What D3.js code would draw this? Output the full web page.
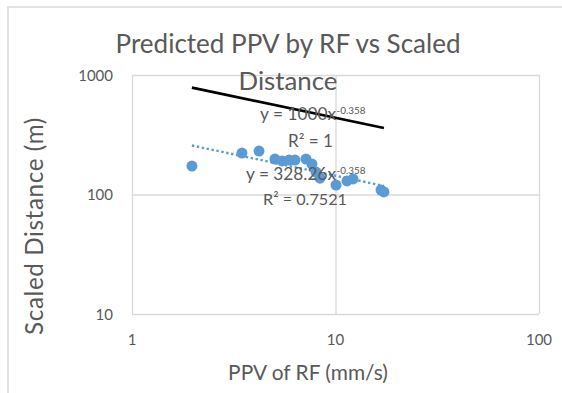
<!DOCTYPE html>
<html><head><meta charset="utf-8">
<script src="https://cdn.jsdelivr.net/npm/d3@7"></script>
<style>body{margin:0;background:#fff}svg{display:block}text{font-family:Lato,"Open Sans",sans-serif;fill:#595959}</style>
</head><body><svg id="c" width="562" height="393"></svg>
<script>
// Data
const ppv = [1.97, 3.47, 4.21, 5.04, 5.46, 5.91, 6.32, 7.16, 7.66, 8.02, 8.39, 10.06, 11.39, 12.19, 16.73, 17.3];
const scaledDist = [173, 222, 231, 198, 191, 194, 194, 198, 180, 154, 137, 120, 130, 135, 109, 105];
// Predicted series (black line, y = 1000x^-0.358) endpoints
const predX = [1.97, 17.3];
const predY = [784, 360];
// Power trendline of measured series (y = 328.26x^-0.358) endpoints
const trendX = [1.97, 17.3];
const trendY = [257, 118];
const xTicks = [1, 10, 100];
const yTicks = [10, 100, 1000];
const titleLines = ["Predicted PPV by RF vs Scaled", "Distance"];

const svg = d3.select("#c");
const L = 132, R = 539, T = 75, B = 314;
const x = d3.scaleLog().domain([1, 100]).range([L, R]);
const y = d3.scaleLog().domain([10, 1000]).range([B, T]);

function fit(sel, w) {
  const n = sel.node();
  const fs = parseFloat(sel.attr("font-size"));
  const m = n.getComputedTextLength();
  sel.attr("font-size", fs * w / m);
}

// chart border
svg.append("rect").attr("x", 8).attr("y", 7).attr("width", 620).attr("height", 420)
  .attr("fill", "none").attr("stroke", "#d9d9d9").attr("stroke-width", 1.5);

// gridlines
const gx = d3.axisBottom(x).tickValues(xTicks).tickSize(-(B - T)).tickFormat("");
svg.append("g").attr("transform", `translate(0,${B})`).call(gx)
  .call(g => g.select(".domain").remove())
  .call(g => g.selectAll("line").attr("stroke", "#d9d9d9").attr("stroke-width", 1.3));
const gy = d3.axisLeft(y).tickValues(yTicks).tickSize(-(R - L)).tickFormat("");
svg.append("g").attr("transform", `translate(${L},0)`).call(gy)
  .call(g => g.select(".domain").remove())
  .call(g => g.selectAll("line").attr("stroke", "#d9d9d9").attr("stroke-width", 1.3));

// tick labels
svg.append("g").selectAll("text").data(xTicks).join("text")
  .attr("x", d => x(d)).attr("y", 345).attr("text-anchor", "middle")
  .attr("font-size", 15).text(d => d);
svg.append("g").selectAll("text").data(yTicks).join("text")
  .attr("x", 113).attr("y", d => y(d) + 5.5).attr("text-anchor", "end")
  .attr("font-size", 15).text(d => d);

// predicted line
const line = d3.line().x(d => x(d[0])).y(d => y(d[1]));
svg.append("path").datum(d3.zip(predX, predY)).attr("d", line)
  .attr("fill", "none").attr("stroke", "#000").attr("stroke-width", 2.6);

// trendline
svg.append("path").datum(d3.zip(trendX, trendY)).attr("d", line)
  .attr("fill", "none").attr("stroke", "#5b9bd5").attr("stroke-width", 2.4)
  .attr("stroke-dasharray", "2.4,2.6");

// points
svg.append("g").selectAll("circle").data(d3.zip(ppv, scaledDist)).join("circle")
  .attr("cx", d => x(d[0])).attr("cy", d => y(d[1])).attr("r", 5.5)
  .attr("fill", "#5b9bd5");

// title
const t1 = svg.append("text").attr("x", 288).attr("y", 53).attr("text-anchor", "middle")
  .attr("font-size", 24).text(titleLines[0]);
fit(t1, 345);
const t2 = svg.append("text").attr("x", 288).attr("y", 90).attr("text-anchor", "middle")
  .attr("font-size", 24).text(titleLines[1]);
fit(t2, 99);

// axis titles
const xt = svg.append("text").attr("x", 308).attr("y", 380).attr("text-anchor", "middle")
  .attr("font-size", 18).text("PPV of RF (mm/s)");
fit(xt, 160);
const yt = svg.append("text").attr("transform", "translate(43,226) rotate(-90)")
  .attr("text-anchor", "middle").attr("font-size", 18)
  .attr("letter-spacing", 0.6).text("Scaled Distance (m)");
fit(yt, 222);

// equation labels
function eq(main, sup, xEnd, yBase, wMain) {
  const m = svg.append("text").attr("x", xEnd).attr("y", yBase).attr("text-anchor", "end")
    .attr("font-size", 17).text(main);
  fit(m, wMain);
  const s = svg.append("text").attr("x", xEnd + 0.5).attr("y", yBase - 6).attr("font-size", 11).text(sup);
  fit(s, 29);
}
eq("y = 1000x", "-0.358", 336, 120, 76);
eq("y = 328.26x", "-0.358", 336, 180, 90);
const r1 = svg.append("text").attr("x", 310.5).attr("y", 147).attr("text-anchor", "middle")
  .attr("font-size", 17).text("R² = 1");
fit(r1, 45);
const r2 = svg.append("text").attr("x", 305).attr("y", 205).attr("text-anchor", "middle")
  .attr("font-size", 17).text("R² = 0.7521");
fit(r2, 84);
</script></body></html>
